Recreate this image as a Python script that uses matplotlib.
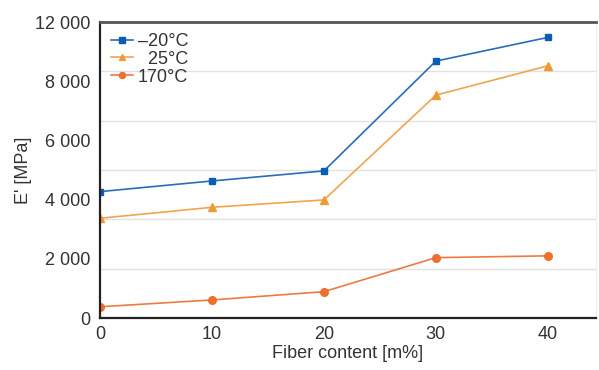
import numpy as np
import matplotlib
matplotlib.use("Agg")
import matplotlib.pyplot as plt
from matplotlib.ticker import FixedLocator

plt.rcParams['font.family'] = ['Liberation Sans', 'DejaVu Sans']

fiber = [0, 10, 20, 30, 40]
e_m20 = [4270, 4630, 4970, 8680, 9480]
e_25 = [3370, 3740, 3990, 7530, 8520]
e_170 = [380, 610, 890, 2040, 2100]

ytick_vals = [0, 2000, 4000, 6000, 8000, 10000]
ytick_labels = ['0', '2 000', '4 000', '6 000', '8 000', '12 000']
xtick_vals = [0, 10, 20, 30, 40]
labels = ['\u201320°C', '\u200725°C', '170°C']

fig = plt.figure(figsize=(5.99, 3.70), dpi=100)
ax = fig.add_axes([0.167, 0.1405, 0.828, 0.80])

ax.plot(fiber, e_m20, color='#2a6cb8', marker='s', markersize=5, lw=1.2,
        markerfacecolor='#0b5cb5', markeredgecolor='#0b5cb5', label=labels[0])
ax.plot(fiber, e_25, color='#f0a550', marker='^', markersize=5.5, lw=1.2,
        markerfacecolor='#f09a35', markeredgecolor='#f09a35', label=labels[1])
ax.plot(fiber, e_170, color='#ee7a42', marker='o', markersize=5.5, lw=1.2,
        markerfacecolor='#ec7030', markeredgecolor='#ec7030', label=labels[2])

ax.set_xlim(0, 44.3)
ax.set_ylim(0, 10000)
ax.set_xticks(xtick_vals)
ax.set_yticks(ytick_vals)
ax.set_yticklabels(ytick_labels)
ax.yaxis.set_minor_locator(FixedLocator(np.linspace(0, 10000, 7)))
ax.grid(which='minor', axis='y', color='#e2e2e2', lw=1)
ax.tick_params(axis='both', which='both', length=0, labelsize=13, colors='#333333')
ax.tick_params(axis='y', pad=7)
ax.tick_params(axis='x', pad=6)

for s in ['left', 'bottom']:
    ax.spines[s].set_color('#222222')
    ax.spines[s].set_linewidth(1.6)
ax.spines['top'].set_color('#555555')
ax.spines['top'].set_linewidth(2)
ax.spines['right'].set_color('#eeeeee')
ax.spines['right'].set_linewidth(0.8)

ax.set_xlabel('Fiber content [m%]', fontsize=13, color='#333333', labelpad=1)
ax.set_ylabel("E' [MPa]", fontsize=13, color='#333333', labelpad=2)

leg = ax.legend(loc='upper left', frameon=False, fontsize=13, handlelength=1.2,
                handletextpad=0.3, labelspacing=0.05, borderaxespad=0.2,
                markerscale=0.8, bbox_to_anchor=(0.0, 1.0))
for t in leg.get_texts():
    t.set_color('#333333')

fig.savefig('out.png', dpi=100)
